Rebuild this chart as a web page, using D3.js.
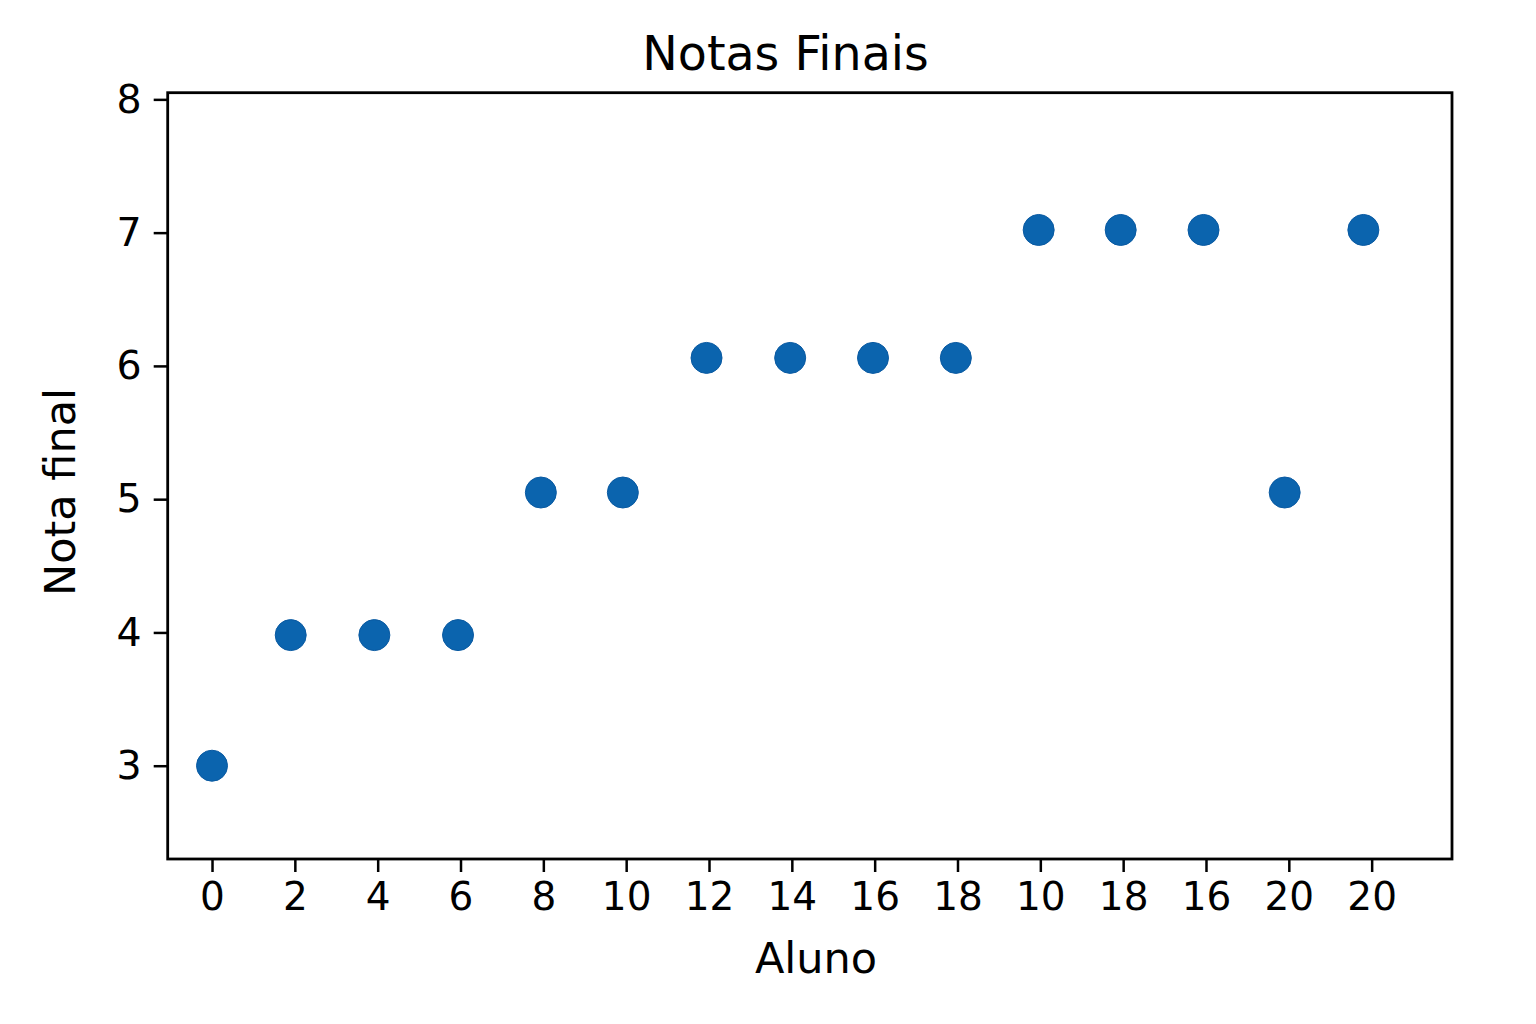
<!DOCTYPE html>
<html>
<head>
<meta charset="utf-8">
<script src="https://cdn.jsdelivr.net/npm/d3@7/dist/d3.min.js"></script>
<style>
  html, body { margin: 0; padding: 0; background: #fff; }
  svg text { font-family: "DejaVu Sans", sans-serif; fill: #000; }
</style>
</head>
<body>
<svg id="chart" width="1536" height="1024"></svg>
<script>
// ---- data ----
const xTickLabels = ["0", "2", "4", "6", "8", "10", "12", "14", "16", "18", "10", "18", "16", "20", "20"];
const pointX = [0, 0.95, 1.96, 2.97, 3.97, 4.96, 5.97, 6.98, 7.98, 8.98, 9.98, 10.97, 11.97, 12.95, 13.9];
const pointY = [3.0, 3.98, 3.98, 3.98, 5.05, 5.05, 6.06, 6.06, 6.06, 6.06, 7.02, 7.02, 7.02, 5.05, 7.02];
const yTicks = [3, 4, 5, 6, 7, 8];
const titleText = "Notas Finais";
const xLabelText = "Aluno";
const yLabelText = "Nota final";

(function () {
// ---- layout ----
const svg = d3.select("#chart");
const pLeft = 167.7, pRight = 1452, pTop = 92.7, pBottom = 859;

const x = d3.scaleLinear().domain([-0.535, 14.97]).range([pLeft, pRight]);
const y = d3.scaleLinear().domain([2.3, 8.05]).range([pBottom, pTop]);

// points
svg.append("g").selectAll("circle")
  .data(pointX.map((d, i) => ({ x: d, y: pointY[i] })))
  .join("circle")
  .attr("cx", d => x(d.x))
  .attr("cy", d => y(d.y))
  .attr("r", 15.5)
  .attr("fill", "#0b64ae")
  .attr("stroke", "#0a5aa2")
  .attr("stroke-width", 1);

// x axis
const xAxis = d3.axisBottom(x)
  .tickValues(d3.range(xTickLabels.length))
  .tickFormat((d, i) => xTickLabels[i])
  .tickSizeInner(13).tickSizeOuter(0).tickPadding(8);
const gx = svg.append("g").attr("transform", `translate(0,${pBottom})`).call(xAxis);
gx.select(".domain").remove();
gx.selectAll(".tick line").attr("stroke", "#000").attr("stroke-width", 2.5);
gx.selectAll(".tick text").attr("font-size", 39).attr("dy", "0.76em");

// y axis
const yAxis = d3.axisLeft(y)
  .tickValues(yTicks)
  .tickFormat(d3.format("d"))
  .tickSizeInner(14).tickSizeOuter(0).tickPadding(12);
const gy = svg.append("g").attr("transform", `translate(${pLeft},0)`).call(yAxis);
gy.select(".domain").remove();
gy.selectAll(".tick line").attr("stroke", "#000").attr("stroke-width", 2.5);
gy.selectAll(".tick text").attr("font-size", 39.5);

// frame (spines)
svg.append("rect")
  .attr("x", pLeft).attr("y", pTop)
  .attr("width", pRight - pLeft).attr("height", pBottom - pTop)
  .attr("fill", "none").attr("stroke", "#000").attr("stroke-width", 2.8);

// title
svg.append("text")
  .attr("x", 785.5).attr("y", 69.5)
  .attr("text-anchor", "middle")
  .attr("font-size", 47.5)
  .text(titleText);

// x label
svg.append("text")
  .attr("x", 816).attr("y", 973)
  .attr("text-anchor", "middle")
  .attr("font-size", 43)
  .text(xLabelText);

// y label
svg.append("text")
  .attr("transform", "translate(75,492) rotate(-90)")
  .attr("text-anchor", "middle")
  .attr("font-size", 43)
  .text(yLabelText);
})();
</script>
</body>
</html>
